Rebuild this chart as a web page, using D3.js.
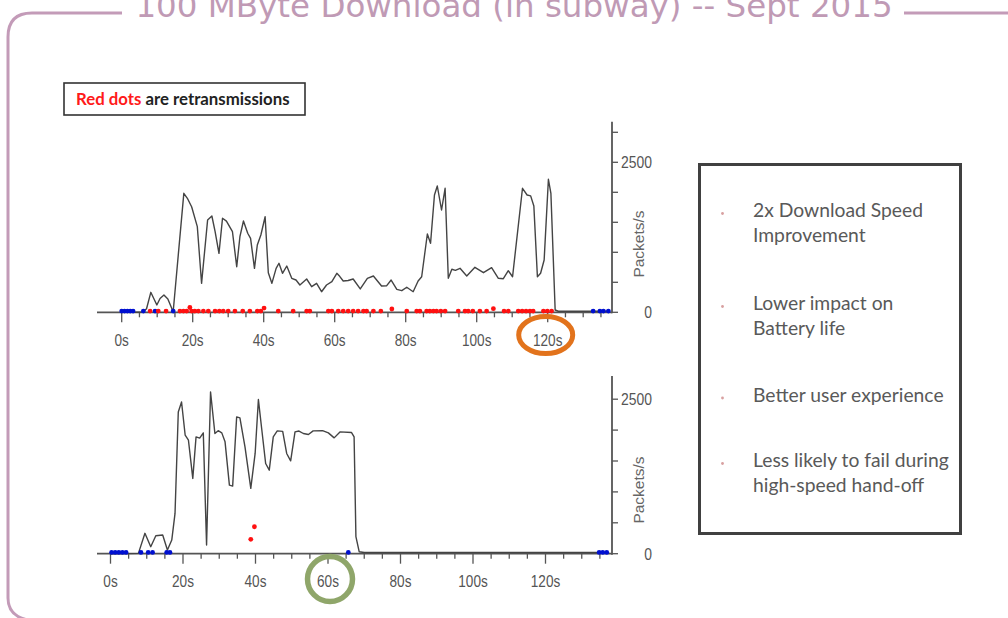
<!DOCTYPE html>
<html><head><meta charset="utf-8">
<script src="https://cdn.jsdelivr.net/npm/d3@7"></script>
<style>
html,body{margin:0;padding:0;background:#fff;}
svg{display:block;}
.tick-lab{font-family:"Liberation Sans","Arial",sans-serif;font-size:17px;fill:#555;}
</style></head>
<body>
<svg id="chart" width="1008" height="618"></svg>
<script>
// ---------- DATA ----------
const titleText = "100 MByte Download (in subway) -- Sept 2015";
const xTickLabels = ["0s","20s","40s","60s","80s","100s","120s"];
const xTickValues = [0,20,40,60,80,100,120];
const yTickLabels = ["0","2500"];
const yLabelValues = [0,2500];

// Top chart (before): time in s, packets/s
const topTime = [0,3,6,7,8.2,9.9,10.8,11.9,13,14.5,17.5,18.5,19.7,21.3,22.5,24.2,25.4,26.3,27.4,28.4,29.5,31.2,32.4,33.3,34.3,35.5,36.3,37.4,38.2,39.2,40.4,41.3,42.3,43.5,44.3,45.3,46.5,47.9,49.1,50.2,52.1,53.5,54.9,56.3,57.7,59.2,60.6,61.4,62.4,63.8,65.2,67.2,69.2,70.9,73.2,74.6,75.9,77.5,78.9,80.3,82.1,83.5,84.5,86.1,87.0,88.1,88.9,90.1,91.1,92.0,93.0,94.0,95.3,97.2,99.5,101.9,104.2,106.1,107.5,108.9,110.1,112.9,114.2,115.2,116.1,117.1,118.0,119.0,120.2,120.9,122.1,123,137];
const topRate = [0,0,5,60,333,122,230,288,220,10,1983,1900,1760,1427,483,1538,1605,1350,983,1567,1520,1343,760,1260,1522,1317,1233,733,1122,1288,1593,660,483,733,817,650,772,567,538,455,555,427,483,343,455,510,650,600,522,530,555,390,567,605,438,440,538,383,360,417,343,522,593,1305,1150,1955,2105,1705,2067,567,717,700,733,605,750,660,743,567,560,693,593,2067,1955,1940,1772,593,650,872,2217,1983,38,18,18];
const topRetxTime = [8.0,10.3,12.5,16.4,17.4,18.3,19.2,19.7,20.6,21.6,23.0,24.4,26.3,27.5,28.6,30.0,31.9,34.1,36.1,38.2,39.2,40.1,44.1,48.3,52.1,53.0,58.2,59.2,61.0,62.4,63.8,65.2,66.6,68.1,69.0,70.9,73.0,76.1,80.3,83.1,84.0,85.9,86.8,87.8,88.7,89.9,91.1,94.8,96.7,97.6,98.9,100.9,102.8,104.7,107.7,108.9,111.7,112.8,113.9,115.0,115.9,118.8,119.9,121.1];
const topRetxRate = [20,20,20,20,20,20,80,20,20,20,20,20,20,20,20,20,20,20,20,20,20,70,20,20,20,20,20,20,20,20,20,20,20,20,20,20,20,55,20,20,20,20,20,20,20,20,20,20,20,20,20,20,20,60,20,20,20,20,20,20,20,20,20,20];
const topBlueTime = [0,0.8,1.6,2.4,3.2,6.1,9.4,14.5,132.8,134.7,135.7,137.1];

// Bottom chart (after)
const botTime = [0,7.7,9.5,11.1,12.5,14.4,15.7,16.9,17.8,18.7,19.6,20.6,21.5,22.7,23.6,24.6,25.6,26.5,27.6,28.8,29.7,30.7,31.6,32.8,33.7,34.8,35.7,37.1,38.7,39.9,40.8,41.7,42.8,43.8,44.9,46.0,47.5,48.6,49.7,50.9,52.0,53.2,54.6,55.9,58.5,60.1,61.7,63.3,66.5,67.2,67.7,68.6,70,137];
const botRate = [0,5,330,113,291,302,60,221,652,2294,2455,1917,1836,1218,1890,1870,1955,140,2617,1945,1990,1955,1810,1110,1094,2213,2197,1729,1057,1622,2494,2026,1460,1352,1890,1987,1980,1622,1502,1971,1985,1945,1929,1987,1990,1955,1874,1971,1960,1890,275,32,20,20];
const botRetxTime = [38.7,39.7];
const botRetxRate = [233,436];
const botBlueTime = [0.3,1.3,2.3,3.3,4.3,8.4,10.4,11.6,15.5,16.4,65.6,134.8,135.8,136.9];

const legendText = ["Red dots", " are retransmissions"];
const bullets = [["2x Download Speed","Improvement"],["Lower impact on","Battery life"],["Better user experience"],["Less likely to fail during","high-speed hand-off"]];

// ---------- DRAW ----------
const svg = d3.select("#chart");

// frame
const frameColor = "#c39bb8";
svg.append("path").attr("d","M122,13 H32 Q8,13 8,37 V598 Q8,616 28,620")
  .attr("fill","none").attr("stroke",frameColor).attr("stroke-width",3);
svg.append("path").attr("d","M904,13 H1010")
  .attr("fill","none").attr("stroke",frameColor).attr("stroke-width",3);
svg.append("text").attr("x",514).attr("y",17).attr("text-anchor","middle")
  .attr("font-family","DejaVu Sans, Verdana, sans-serif").attr("font-size",32.5)
  .attr("fill","#c09ab5").text(titleText);

function panel(cfg){
  const g = svg.append("g");
  const x = d3.scaleLinear().domain([0,120]).range([cfg.x0, cfg.x120]);
  const y = d3.scaleLinear().domain([0,2500]).range([cfg.y0, cfg.y2500]);
  const xLeft = 97, xRight = 612;
  const yTop = cfg.yTop;
  // x axis
  g.append("line").attr("x1",xLeft).attr("x2",xRight).attr("y1",cfg.y0).attr("y2",cfg.y0)
    .attr("stroke","#555").attr("stroke-width",1.8);
  const minor = d3.range(0,136,5);
  g.selectAll(".xt").data(minor).join("line")
    .attr("x1",d=>x(d)).attr("x2",d=>x(d)).attr("y1",cfg.y0)
    .attr("y2",d=> d%20===0 ? cfg.y0+10 : cfg.y0+5)
    .attr("stroke","#555").attr("stroke-width",1.3);
  g.selectAll(".xl").data(xTickValues).join("text").attr("class","tick-lab")
    .attr("transform",d=>`translate(${x(d)},${cfg.y0+33.5}) scale(0.8,1)`)
    .attr("text-anchor","middle")
    .text((d,i)=>xTickLabels[i]);
  // y axis
  g.append("line").attr("x1",xRight).attr("x2",xRight).attr("y1",yTop).attr("y2",cfg.y0+1)
    .attr("stroke","#555").attr("stroke-width",1.8);
  const yt = d3.range(0, y.invert(yTop)+1, 500);
  g.selectAll(".yt").data(yt).join("line")
    .attr("x1",xRight).attr("x2",xRight+6).attr("y1",d=>y(d)).attr("y2",d=>y(d))
    .attr("stroke","#555").attr("stroke-width",1.3);
  g.selectAll(".yl").data(yLabelValues).join("text").attr("class","tick-lab")
    .attr("transform",d=>`translate(652,${y(d)+6}) scale(0.82,1)`)
    .attr("text-anchor","end")
    .text((d,i)=>yTickLabels[i]);
  g.append("text").attr("transform",`translate(644,${cfg.labY}) rotate(-90)`)
    .attr("text-anchor","middle").attr("font-family","Liberation Sans, Arial, sans-serif")
    .attr("font-size",15.5).attr("fill","#666").text("Packets/s");
  // line
  const pts = cfg.t.map((t,i)=>[t,cfg.v[i]]);
  g.append("path").datum(pts)
    .attr("d", d3.line().x(d=>x(d[0])).y(d=>y(d[1])))
    .attr("fill","none").attr("stroke","#444").attr("stroke-width",1.4)
    .attr("stroke-linejoin","round");
  // dots
  g.selectAll(".bd").data(cfg.blue).join("circle")
    .attr("cx",d=>x(d)).attr("cy",y(20)).attr("r",2.4).attr("fill","#0010d0");
  g.selectAll(".rd").data(cfg.rt.map((t,i)=>[t,cfg.rv[i]])).join("circle")
    .attr("cx",d=>x(d[0])).attr("cy",d=>y(d[1])).attr("r",2.4).attr("fill","#ff1010");
  return {x,y};
}

const topP = panel({x0:121.7, x120:547.7, y0:312.3, y2500:162.3, yTop:121.7, labY:244,
  t:topTime, v:topRate, blue:topBlueTime, rt:topRetxTime, rv:topRetxRate});
const botP = panel({x0:110.5, x120:545.5, y0:553.7, y2500:399.2, yTop:376, labY:490,
  t:botTime, v:botRate, blue:botBlueTime, rt:botRetxTime, rv:botRetxRate});

// highlight circles
svg.append("ellipse").attr("cx",topP.x(120)-2).attr("cy",335).attr("rx",27).attr("ry",18.5)
  .attr("fill","none").attr("stroke","#e2731c").attr("stroke-width",5);
svg.append("circle").attr("cx",botP.x(60)+2).attr("cy",579).attr("r",22.5)
  .attr("fill","none").attr("stroke","#8fa66a").attr("stroke-width",5.5);

// legend box
svg.append("rect").attr("x",64).attr("y",83).attr("width",241).attr("height",32)
  .attr("fill","#fff").attr("stroke","#333").attr("stroke-width",1.6);
const lt = svg.append("text").attr("x",76).attr("y",105)
  .attr("font-family","Lato, 'Open Sans', sans-serif").attr("font-weight","bold").attr("font-size",16.8);
lt.append("tspan").attr("fill","#ff1a1a").text(legendText[0]);
lt.append("tspan").attr("fill","#222").text(legendText[1]);

// right text box
svg.append("rect").attr("x",699.5).attr("y",164.5).attr("width",261).attr("height",369)
  .attr("fill","#fff").attr("stroke","#404040").attr("stroke-width",3);
const bulletY = [217, 310, 401.5, 467];
bullets.forEach((lines,i)=>{
  svg.append("circle").attr("cx",722.5).attr("cy",bulletY[i]-3.5).attr("r",1.4).attr("fill","#d8a0a0");
  lines.forEach((ln,j)=>{
    svg.append("text").attr("x",753).attr("y",bulletY[i]+j*25)
      .attr("font-family","Lato, 'Open Sans', sans-serif").attr("font-size",19.3)
      .attr("fill","#595959").text(ln);
  });
});
</script>
</body></html>
